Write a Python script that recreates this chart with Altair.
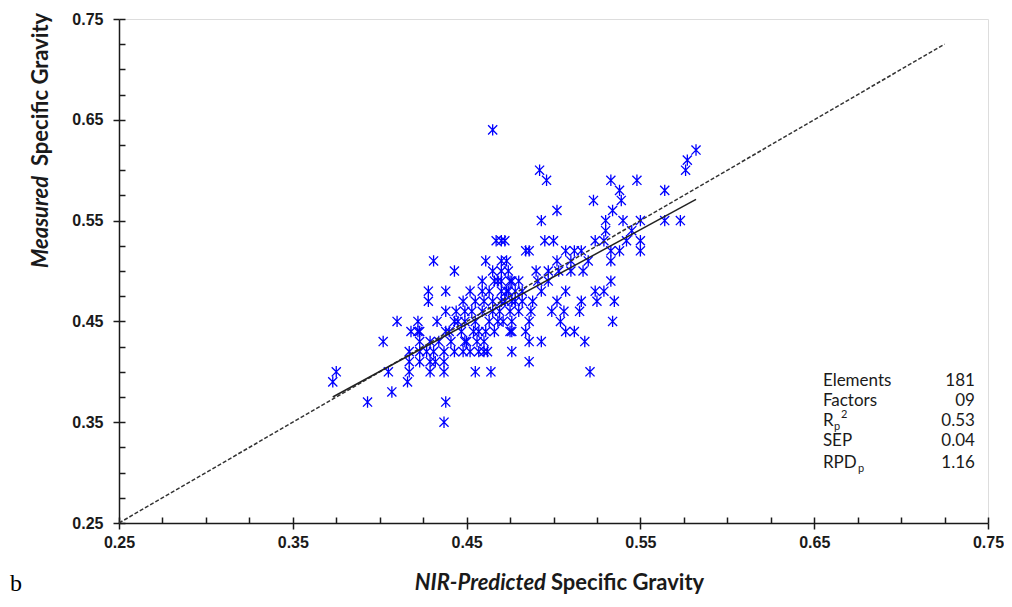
import altair as alt
import pandas as pd

# ---- data ----
x_pred = [
    0.465,
    0.582,
    0.577,
    0.492, 0.576,
    0.496, 0.533, 0.548,
    0.538, 0.564,
    0.523, 0.539,
    0.502, 0.534,
    0.493, 0.530, 0.540, 0.550, 0.564, 0.573,
    0.530, 0.545,
    0.467, 0.472, 0.470, 0.495, 0.500, 0.524, 0.529, 0.542, 0.550,
    0.484, 0.486, 0.507, 0.512, 0.516, 0.533, 0.538, 0.550,
    0.431, 0.461, 0.470, 0.473, 0.502, 0.533, 0.520, 0.510,
    0.443, 0.465, 0.470, 0.490, 0.497, 0.503, 0.510, 0.517, 0.474,
    0.459, 0.476, 0.480, 0.533, 0.468, 0.475, 0.466, 0.470, 0.491, 0.497,
    0.428, 0.438, 0.452, 0.459, 0.470, 0.473, 0.478, 0.482, 0.493, 0.507, 0.524, 0.529, 0.463, 0.474,
    0.428, 0.470, 0.472, 0.476, 0.488, 0.502, 0.516, 0.525, 0.535, 0.465, 0.448, 0.455, 0.460, 0.478, 0.482,
    0.438, 0.444, 0.449, 0.453, 0.459, 0.465, 0.469, 0.475, 0.487, 0.499, 0.506, 0.515, 0.480,
    0.410, 0.422, 0.433, 0.445, 0.449, 0.486, 0.504, 0.534, 0.455, 0.463, 0.468, 0.471, 0.476, 0.443,
    0.418, 0.423, 0.422, 0.438, 0.454, 0.457, 0.461, 0.475, 0.476, 0.484, 0.507, 0.512, 0.440, 0.447, 0.466,
    0.402, 0.423, 0.429, 0.434, 0.441, 0.449, 0.486, 0.493, 0.518, 0.450, 0.456, 0.460,
    0.417, 0.423, 0.427, 0.431, 0.437, 0.443, 0.448, 0.452, 0.457, 0.460, 0.462, 0.476,
    0.417, 0.423, 0.429, 0.432, 0.437, 0.486,
    0.375, 0.405, 0.417, 0.429, 0.437, 0.455, 0.464, 0.521,
    0.373, 0.416,
    0.407,
    0.393, 0.438,
    0.437,
]
y_meas = [
    0.64,
    0.62,
    0.61,
    0.60, 0.60,
    0.59, 0.59, 0.59,
    0.58, 0.58,
    0.57, 0.57,
    0.56, 0.56,
    0.55, 0.55, 0.55, 0.55, 0.55, 0.55,
    0.54, 0.54,
    0.53, 0.53, 0.53, 0.53, 0.53, 0.53, 0.53, 0.53, 0.53,
    0.52, 0.52, 0.52, 0.52, 0.52, 0.52, 0.52, 0.52,
    0.51, 0.51, 0.51, 0.51, 0.51, 0.51, 0.51, 0.51,
    0.50, 0.50, 0.50, 0.50, 0.50, 0.50, 0.50, 0.50, 0.50,
    0.49, 0.49, 0.49, 0.49, 0.49, 0.49, 0.49, 0.49, 0.49, 0.49,
    0.48, 0.48, 0.48, 0.48, 0.48, 0.48, 0.48, 0.48, 0.48, 0.48, 0.48, 0.48, 0.48, 0.48,
    0.47, 0.47, 0.47, 0.47, 0.47, 0.47, 0.47, 0.47, 0.47, 0.47, 0.47, 0.47, 0.47, 0.47, 0.47,
    0.46, 0.46, 0.46, 0.46, 0.46, 0.46, 0.46, 0.46, 0.46, 0.46, 0.46, 0.46, 0.46,
    0.45, 0.45, 0.45, 0.45, 0.45, 0.45, 0.45, 0.45, 0.45, 0.45, 0.45, 0.45, 0.45, 0.45,
    0.44, 0.44, 0.44, 0.44, 0.44, 0.44, 0.44, 0.44, 0.44, 0.44, 0.44, 0.44, 0.44, 0.44, 0.44,
    0.43, 0.43, 0.43, 0.43, 0.43, 0.43, 0.43, 0.43, 0.43, 0.43, 0.43, 0.43,
    0.42, 0.42, 0.42, 0.42, 0.42, 0.42, 0.42, 0.42, 0.42, 0.42, 0.42, 0.42,
    0.41, 0.41, 0.41, 0.41, 0.41, 0.41,
    0.40, 0.40, 0.40, 0.40, 0.40, 0.40, 0.40, 0.40,
    0.39, 0.39,
    0.38,
    0.37, 0.37,
    0.35,
]

diag_x = [0.25, 0.725]
diag_y = [0.25, 0.725]
fit_x = [0.373, 0.582]
fit_y = [0.375, 0.571]

major_ticks = [0.25, 0.35, 0.45, 0.55, 0.65, 0.75]
minor_ticks = [0.25, 0.275, 0.30, 0.325, 0.35, 0.375, 0.40, 0.425, 0.45, 0.475,
               0.50, 0.525, 0.55, 0.575, 0.60, 0.625, 0.65, 0.675, 0.70, 0.725, 0.75]

stat_names = ["Elements", "Factors", "R", "SEP", "RPD"]
stat_values = ["181", "09", "0.53", "0.04", "1.16"]
stat_rows = [0.391, 0.371, 0.351, 0.331, 0.310]

# ---- styling ----
W, H = 869, 504
INK = "#1a1a1a"
ASTER = "M-0.8,-0.8L0.8,0.8M-0.8,0.8L0.8,-0.8M0,-1L0,1"

xs = alt.Scale(domain=[0.25, 0.75], nice=False, zero=False)
ys = alt.Scale(domain=[0.25, 0.75], nice=False, zero=False)

ax_main = dict(values=major_ticks, format=".2f", tickSize=6, tickColor=INK, tickWidth=1.5,
               domainColor=INK, domainWidth=1.5, labelFont="Liberation Sans", labelFontSize=16,
               labelFontWeight="bold", labelColor=INK, grid=False, title=None,
               labelFlush=False, labelOverlap=False)
x_axis = alt.Axis(orient="bottom", labelPadding=5, **ax_main)
y_axis = alt.Axis(orient="left", labelPadding=10, **ax_main)

ax_inner = dict(values=minor_ticks, tickSize=6, offset=-6, domain=False, labels=False,
                grid=False, title=None, tickColor=INK, tickWidth=1.5)

pts = pd.DataFrame({"x": x_pred, "y": y_meas})
points = alt.Chart(pts).mark_point(shape=ASTER, size=130, filled=False, color="#0000ff",
                                   strokeWidth=1.3, opacity=1).encode(
    x=alt.X("x:Q", scale=xs, axis=x_axis),
    y=alt.Y("y:Q", scale=ys, axis=y_axis),
)

diag = alt.Chart(pd.DataFrame({"x": diag_x, "y": diag_y})).mark_line(
    color="#333333", strokeWidth=1.5, strokeDash=[4, 2]).encode(
    x=alt.X("x:Q", scale=xs, axis=alt.Axis(orient="bottom", **ax_inner)),
    y=alt.Y("y:Q", scale=ys, axis=alt.Axis(orient="left", **ax_inner)),
)

fit = alt.Chart(pd.DataFrame({"x": fit_x, "y": fit_y})).mark_line(
    color="#222222", strokeWidth=1.5).encode(
    x=alt.X("x:Q", scale=xs, axis=None),
    y=alt.Y("y:Q", scale=ys, axis=None),
)

stats_df = pd.DataFrame({"name": stat_names, "val": stat_values, "y": stat_rows,
                         "xl": [0.655] * 5, "xr": [0.7425] * 5})
stat_txt = dict(font="Lato", fontSize=17, color=INK, baseline="middle")
stats_l = alt.Chart(stats_df).mark_text(align="left", **stat_txt).encode(
    x=alt.X("xl:Q", scale=xs, axis=None), y=alt.Y("y:Q", scale=ys, axis=None), text="name:N")
stats_r = alt.Chart(stats_df).mark_text(align="right", **stat_txt).encode(
    x=alt.X("xr:Q", scale=xs, axis=None), y=alt.Y("y:Q", scale=ys, axis=None), text="val:N")

sub_df = pd.DataFrame({"t": ["p", "p"], "y": [stat_rows[2], stat_rows[4]], "x": [0.655, 0.655]})
sub_p1 = alt.Chart(sub_df.iloc[[0]]).mark_text(align="left", font="Lato", fontSize=11, color=INK,
                                              baseline="middle", dx=11, dy=6).encode(
    x=alt.X("x:Q", scale=xs, axis=None), y=alt.Y("y:Q", scale=ys, axis=None), text="t:N")
sub_p2 = alt.Chart(sub_df.iloc[[1]]).mark_text(align="left", font="Lato", fontSize=11, color=INK,
                                              baseline="middle", dx=35, dy=6).encode(
    x=alt.X("x:Q", scale=xs, axis=None), y=alt.Y("y:Q", scale=ys, axis=None), text="t:N")
sup_2 = alt.Chart(pd.DataFrame({"t": ["2"], "y": [stat_rows[2]], "x": [0.655]})).mark_text(
    align="left", font="Lato", fontSize=11, color=INK, baseline="middle", dx=18, dy=-6).encode(
    x=alt.X("x:Q", scale=xs, axis=None), y=alt.Y("y:Q", scale=ys, axis=None), text="t:N")

title_font = dict(font="Lato", fontSize=22, fontWeight="bold", color=INK)
xt1 = alt.Chart(pd.DataFrame({"t": ["NIR-Predicted"]})).mark_text(
    align="right", baseline="alphabetic", fontStyle="italic", **title_font).encode(
    text="t:N", x=alt.value(427), y=alt.value(571))
xt2 = alt.Chart(pd.DataFrame({"t": ["Specific Gravity"]})).mark_text(
    align="left", baseline="alphabetic", **title_font).encode(
    text="t:N", x=alt.value(432), y=alt.value(571))
yt1 = alt.Chart(pd.DataFrame({"t": ["Measured"]})).mark_text(
    align="left", baseline="alphabetic", angle=270, fontStyle="italic", **title_font).encode(
    text="t:N", x=alt.value(-71), y=alt.value(249))
yt2 = alt.Chart(pd.DataFrame({"t": ["Specific Gravity"]})).mark_text(
    align="left", baseline="alphabetic", angle=270, **title_font).encode(
    text="t:N", x=alt.value(-71), y=alt.value(147))
panel = alt.Chart(pd.DataFrame({"t": ["b"]})).mark_text(
    align="left", baseline="alphabetic", font="Liberation Serif", fontSize=24, color="#000000").encode(
    text="t:N", x=alt.value(-109), y=alt.value(572))

chart = alt.layer(
    points, diag, fit, stats_l, stats_r, sub_p1, sub_p2, sup_2, xt1, xt2, yt1, yt2, panel
).resolve_axis(x="independent", y="independent").properties(
    width=W, height=H,
    autosize=alt.AutoSizeParams(type="none"),
    padding={"left": 111, "top": 11, "right": 16, "bottom": 72},
).configure_view(stroke=None).configure(background="white")

chart.save("out.html", embed_options={"renderer": "svg", "actions": False})
